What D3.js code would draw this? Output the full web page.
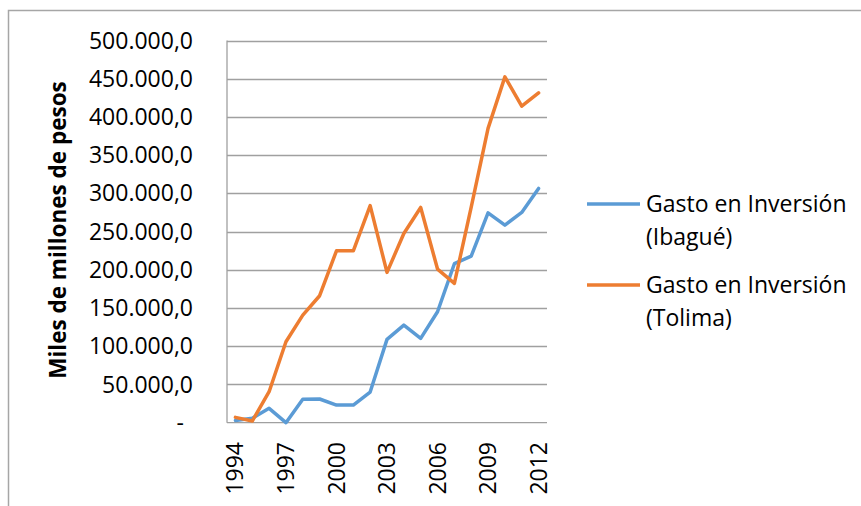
<!DOCTYPE html>
<html>
<head>
<meta charset="utf-8">
<script src="https://cdn.jsdelivr.net/npm/d3@7"></script>
<style>
  body { margin: 0; background: #fff; }
  text { font-family: "Open Sans", sans-serif; fill: #000; }
</style>
</head>
<body>
<svg id="chart" width="861" height="506"></svg>
<script>
// values in miles de millones de pesos
const years = [1994, 1995, 1996, 1997, 1998, 1999, 2000, 2001, 2002, 2003,
               2004, 2005, 2006, 2007, 2008, 2009, 2010, 2011, 2012];
const ibague = [3000, 5700, 18800, 0, 30600, 31000, 23100, 23100, 40100, 109000,
                127700, 110300, 145100, 208000, 218000, 274600, 258500, 275100, 306500];
const tolima = [7000, 2200, 40500, 105900, 140800, 166100, 224900, 224900, 284000, 196600,
                247600, 281600, 201000, 182300, 282000, 385000, 452400, 414100, 431500];
const yTicks = [0, 50000, 100000, 150000, 200000, 250000, 300000, 350000, 400000, 450000, 500000];
const xLabelYears = [1994, 1997, 2000, 2003, 2006, 2009, 2012];
const seriesNames = [["Gasto en Inversión", "(Ibagué)"], ["Gasto en Inversión", "(Tolima)"]];
const colors = ["#5b9bd5", "#ed7d31"];

const svg = d3.select("#chart");
const plot = {left: 227, right: 547, top: 40.5, bottom: 422.7};

// chart border (runs off the right and bottom edges)
svg.append("rect")
  .attr("x", 8.5).attr("y", 10.5)
  .attr("width", 900).attr("height", 600)
  .attr("fill", "none").attr("stroke", "#a6a6a6").attr("stroke-width", 1.5);

const x = d3.scaleBand().domain(years).range([plot.left, plot.right]);
const y = d3.scaleLinear().domain([0, 500000]).range([plot.bottom, plot.top]);

const es = d3.formatLocale({decimal: ",", thousands: ".", grouping: [3], currency: ["$", ""]});
const fmt = es.format(",.1f");

// gridlines
svg.append("g")
  .selectAll("line")
  .data(yTicks.filter(d => d > 0))
  .join("line")
  .attr("x1", plot.left).attr("x2", plot.right)
  .attr("y1", d => Math.round(y(d)) + 0.5).attr("y2", d => Math.round(y(d)) + 0.5)
  .attr("stroke", "#a0a0a0").attr("stroke-width", 1.3);

// axes lines
svg.append("line")
  .attr("x1", plot.left).attr("x2", plot.left)
  .attr("y1", plot.top).attr("y2", plot.bottom)
  .attr("stroke", "#a0a0a0").attr("stroke-width", 1.3);
svg.append("line")
  .attr("x1", plot.left).attr("x2", plot.right)
  .attr("y1", plot.bottom).attr("y2", plot.bottom)
  .attr("stroke", "#a0a0a0").attr("stroke-width", 1.3);

// y tick labels
svg.append("g")
  .selectAll("text")
  .data(yTicks)
  .join("text")
  .attr("x", d => d === 0 ? 184 : 193)
  .attr("y", d => y(d))
  .attr("dy", "0.35em")
  .attr("text-anchor", "end")
  .style("font-size", "23px")
  .text(d => d === 0 ? "-" : fmt(d));

// x tick labels
svg.append("g")
  .selectAll("text")
  .data(xLabelYears)
  .join("text")
  .attr("transform", d => `translate(${x(d) + x.bandwidth() / 2},442) rotate(-90)`)
  .attr("text-anchor", "end")
  .attr("dy", "0.35em")
  .style("font-size", "23px")
  .text(d => d);

// y axis title
svg.append("text")
  .attr("transform", "translate(58,230) rotate(-90)")
  .attr("text-anchor", "middle")
  .attr("dy", "0.35em")
  .style("font-size", "22.5px")
  .style("font-weight", "bold")
  .text("Miles de millones de pesos");

// series lines
const line = d3.line()
  .x((d, i) => x(years[i]) + x.bandwidth() / 2)
  .y(d => y(d));

[ibague, tolima].forEach((vals, k) => {
  svg.append("path")
    .datum(vals)
    .attr("d", line)
    .attr("fill", "none")
    .attr("stroke", colors[k])
    .attr("stroke-width", 3.5)
    .attr("stroke-linejoin", "round")
    .attr("stroke-linecap", "round");
});

// legend
const legend = svg.append("g");
const legendY = [204, 285];
seriesNames.forEach((lines, k) => {
  const g = legend.append("g").attr("transform", `translate(0,${legendY[k]})`);
  g.append("line")
    .attr("x1", 587).attr("x2", 640)
    .attr("y1", 0).attr("y2", 0)
    .attr("stroke", colors[k]).attr("stroke-width", 3.5);
  g.selectAll("text")
    .data(lines)
    .join("text")
    .attr("x", 646)
    .attr("y", (d, i) => i * 33)
    .attr("dy", "0.35em")
    .style("font-size", "23px")
    .text(d => d);
});
</script>
</body>
</html>
